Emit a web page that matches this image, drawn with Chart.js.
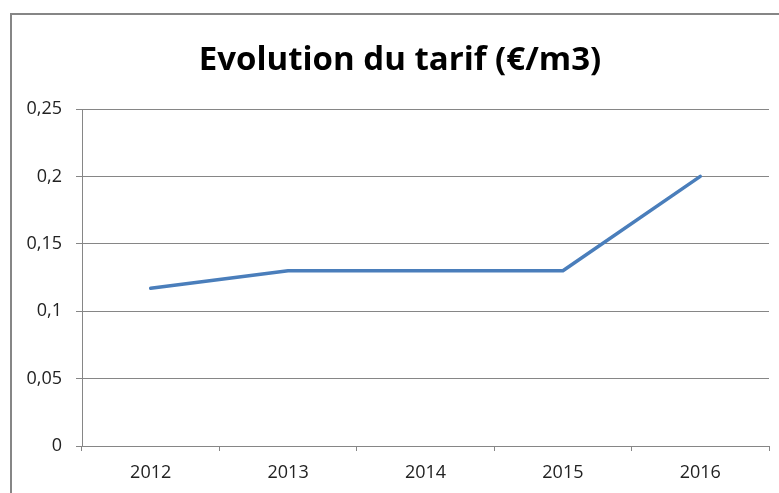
<!DOCTYPE html>
<html>
<head>
<meta charset="utf-8">
<script src="https://cdn.jsdelivr.net/npm/chart.js@4"></script>
<style>
  html, body { margin: 0; padding: 0; background: #fff; }
  #box { position: relative; width: 779px; height: 493px; }
</style>
</head>
<body>
<div id="box"><canvas id="graficoTarif"></canvas></div>
<script>
const years = ['2012', '2013', '2014', '2015', '2016'];
const tarif = [0.117, 0.13, 0.13, 0.13, 0.2];
const yTickLabels = ['0', '0,05', '0,1', '0,15', '0,2', '0,25'];

// frame around the chart (cut on the right and bottom like the screenshot)
const frame = {
    id: 'frame',
    beforeDraw(chart) {
        const c = chart.ctx;
        c.save();
        c.fillStyle = '#fff';
        c.fillRect(0, 0, chart.width, chart.height);
        c.strokeStyle = '#868686';
        c.lineWidth = 2;
        c.strokeRect(11, 14, 900, 600);
        c.restore();
    },
    afterLayout(chart) {
        // title is centred a bit right of the canvas middle
        if (chart.titleBlock) {
            chart.titleBlock.left = 31;
            chart.titleBlock.right = 769;
        }
    }
};

document.addEventListener('DOMContentLoaded', function () {
    const ctx = document.getElementById('graficoTarif');
    new Chart(ctx.getContext('2d'), {
        type: 'line',
        data: {
            labels: years,
            datasets: [{
                label: 'Tarif',
                data: tarif,
                borderColor: '#4a7ebb',
                borderWidth: 3.5,
                borderCapStyle: 'round',
                borderJoinStyle: 'round',
                pointRadius: 0,
                tension: 0,
                fill: false
            }]
        },
        options: {
            responsive: true,
            maintainAspectRatio: false,
            animation: false,
            layout: { padding: { left: 0, right: 10, top: 0, bottom: 0 } },
            scales: {
                x: {
                    offset: true,
                    afterFit: s => { s.height = 47; },
                    grid: {
                        offset: true,
                        drawOnChartArea: false,
                        drawTicks: true,
                        tickLength: 5,
                        color: '#868686'
                    },
                    border: { color: '#868686' },
                    ticks: {
                        padding: 11,
                        color: '#222',
                        font: { family: 'Open Sans', size: 18 }
                    }
                },
                y: {
                    min: 0,
                    max: 0.25,
                    afterFit: s => { s.width = 82; },
                    grid: { color: '#868686', tickLength: 6 },
                    border: { color: '#868686' },
                    ticks: {
                        stepSize: 0.05,
                        padding: 14,
                        color: '#222',
                        font: { family: 'Open Sans', size: 18 },
                        callback: (value, i) => yTickLabels[i]
                    }
                }
            },
            plugins: {
                legend: { display: false },
                tooltip: { enabled: false },
                title: {
                    display: true,
                    text: 'Evolution du tarif (€/m3)',
                    color: '#000',
                    font: { family: 'Open Sans', size: 33, weight: 'bold', lineHeight: 1.2 },
                    padding: { top: 41, bottom: 28.4 }
                }
            }
        },
        plugins: [frame]
    });
});
</script>
</body>
</html>
